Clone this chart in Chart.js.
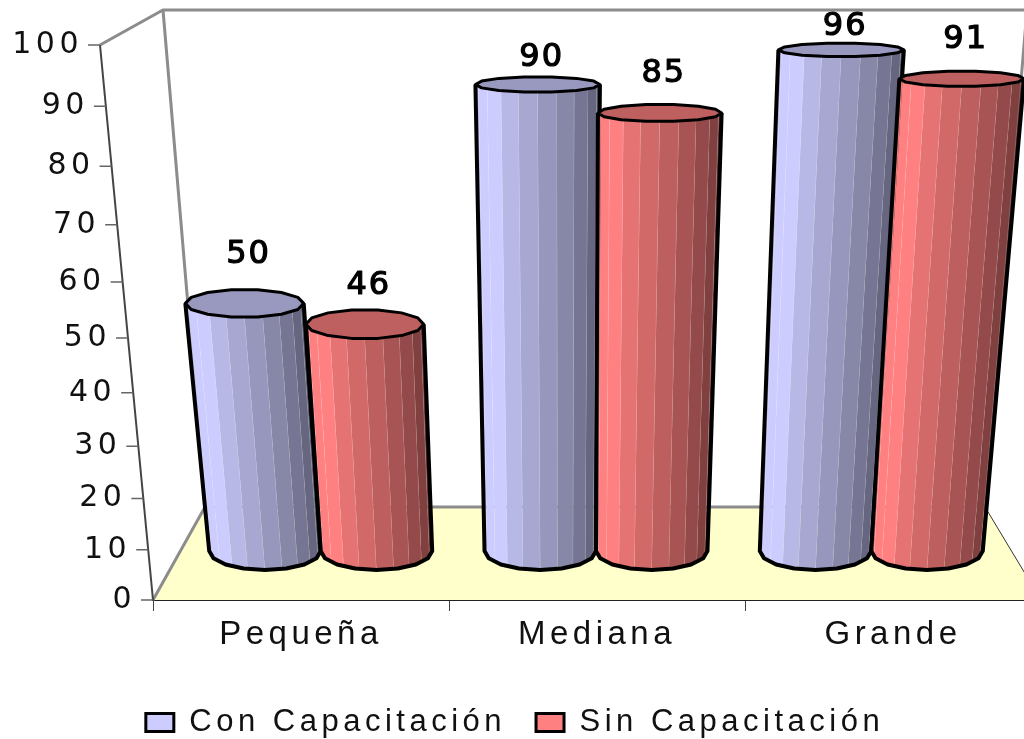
<!DOCTYPE html>
<html>
<head>
<meta charset="utf-8">
<title>Capacitación por tamaño de empresa</title>
<script src="https://cdn.jsdelivr.net/npm/chart.js@4"></script>
<style>
    html, body { margin: 0; padding: 0; background: #fff; overflow: hidden; }
    #wrap { width: 1044px; height: 739px; }
</style>
</head>
<body>
<div id="wrap"><canvas id="myChart" width="1044" height="739"></canvas></div>
<script>
const categories = ["Pequeña", "Mediana", "Grande"];
const conCapacitacion = [50, 90, 96];
const sinCapacitacion = [46, 85, 91];
const seriesNames = ["Con Capacitación", "Sin Capacitación"];
const seriesColors = ["#CCCCFF", "#FF8080"];
const yTicks = [0, 10, 20, 30, 40, 50, 60, 70, 80, 90, 100];

// shade of each visible facet, left to right
const FACET_SHADES = [0.9, 1, 1, 0.9, 0.82, 0.74, 0.66, 0.58, 0.5, 0.44];
const TOP_SHADE = 0.75;
const CAP_SIDES = 14;
const OUTLINE_SIDES = 8;
const LABEL_SPACING = "4.5px";
const FORESHORTEN = 0.1058;

// the value axis is foreshortened, 0 at the bottom of the plot and 100 at the top
class PerspectiveScale extends Chart.LinearScale {
    static id = "perspective";
    static defaults = Chart.LinearScale.defaults;

    getPixelForValue(value) {
        const t = value / 100;
        return this.bottom - (this.bottom - this.top) * (t * (1 - FORESHORTEN)) / (1 - FORESHORTEN * t);
    }

    _computeLabelItems(chartArea) {
        const items = super._computeLabelItems(chartArea);
        items.forEach((item) => {
            const y = item.options.translation[1];
            item.options.translation[0] = axisX(this, y) - 17;
        });
        return items;
    }
}
Chart.register(PerspectiveScale);

// left edge of the plot, leaning outwards as it goes up
function axisX(yScale, y) {
    return yScale.left + yScale.width - (yScale.bottom - y) * 53 / 555;
}

function shade(hex, k) {
    const n = parseInt(hex.slice(1), 16);
    const r = Math.round(((n >> 16) & 255) * k);
    const g = Math.round(((n >> 8) & 255) * k);
    const b = Math.round((n & 255) * k);
    return `rgb(${r}, ${g}, ${b})`;
}

// where a bar of the flat chart lands on the floor and at its top
function cylinderFrom(bar, area) {
    const VANISH_X = 560;
    const baseY = area.bottom - 49;
    const depth = 0.93;
    const baseX = VANISH_X + 36 + (bar.x - VANISH_X - 37) * depth;
    const topY = baseY - 0.945 * (area.bottom - bar.y);
    const rise = baseY - topY;
    const lean = baseX < VANISH_X ? 0.00028 : 0.0002;
    const topX = baseX + (baseX - VANISH_X) * lean * rise;
    const baseRx = bar.width / 2 * depth;
    return {
        baseX, baseY, topX, topY, baseRx,
        topRx: baseRx * (1 + rise * 0.00025),
        baseRy: 19,
        topRy: 6 + (topY - 20) * 0.028,
    };
}

function drawCylinder(ctx, c, color) {
    const n = FACET_SHADES.length;
    const pt = (cx, cy, rx, ry, a) => [cx + rx * Math.cos(a), cy + ry * Math.sin(a)];
    const bottomPt = (a) => pt(c.baseX, c.baseY, c.baseRx, c.baseRy, a);
    const topPt = (a) => pt(c.topX, c.topY, c.topRx, c.topRy, a);

    for (let i = 0; i < n; i++) {
        const a0 = Math.PI - (i * Math.PI) / n;
        const a1 = Math.PI - ((i + 1) * Math.PI) / n;
        const pts = [topPt(a0), topPt(a1), bottomPt(a1), bottomPt(a0)];
        ctx.beginPath();
        pts.forEach((p, j) => (j ? ctx.lineTo(p[0], p[1]) : ctx.moveTo(p[0], p[1])));
        ctx.closePath();
        ctx.fillStyle = shade(color, FACET_SHADES[i]);
        ctx.fill();
        ctx.strokeStyle = "rgba(255, 255, 255, 0.2)";
        ctx.lineWidth = 1;
        ctx.beginPath();
        ctx.moveTo(pts[1][0], pts[1][1]);
        ctx.lineTo(pts[2][0], pts[2][1]);
        ctx.stroke();
    }

    // cap
    ctx.beginPath();
    for (let i = 0; i < CAP_SIDES; i++) {
        const p = topPt((i * 2 * Math.PI) / CAP_SIDES);
        i ? ctx.lineTo(p[0], p[1]) : ctx.moveTo(p[0], p[1]);
    }
    ctx.closePath();
    ctx.fillStyle = shade(color, TOP_SHADE);
    ctx.fill();
    ctx.strokeStyle = "#000";
    ctx.lineWidth = 3;
    ctx.lineJoin = "round";
    ctx.stroke();

    // outline of the body
    ctx.lineWidth = 4;
    ctx.beginPath();
    let p = topPt(Math.PI);
    ctx.moveTo(p[0], p[1]);
    for (let i = 0; i <= OUTLINE_SIDES; i++) {
        p = bottomPt(Math.PI - (i * Math.PI) / OUTLINE_SIDES);
        ctx.lineTo(p[0], p[1]);
    }
    p = topPt(0);
    ctx.lineTo(p[0], p[1]);
    ctx.stroke();
}

const cylinderPlugin = {
    id: "cylinders",
    beforeLayout(chart) {
        chart.ctx.letterSpacing = LABEL_SPACING;
    },
    afterLayout(chart) {
        // legend sits centred in the visible window, close to the bottom
        chart.legend.left = 4;
        chart.legend.right = 1026;
        chart.legend.top = 739 - chart.legend.height + 9;
        chart.legend.bottom = chart.legend.top + chart.legend.height;
    },
    beforeDraw(chart) {
        chart.ctx.letterSpacing = LABEL_SPACING;
    },
    beforeDatasetsDraw(chart) {
        const { ctx, chartArea: area, scales } = chart;
        const y = scales.y;
        const topFront = y.getPixelForValue(100);
        const xTopFront = axisX(y, topFront);
        const backLeft = [area.left + 52, area.bottom - 93];
        const backRight = [area.right - 56, area.bottom - 93];
        const backTop = topFront - 35;

        ctx.save();
        // floor
        ctx.beginPath();
        ctx.moveTo(area.left, area.bottom);
        ctx.lineTo(backLeft[0], backLeft[1]);
        ctx.lineTo(backRight[0], backRight[1]);
        ctx.lineTo(area.right, area.bottom);
        ctx.closePath();
        ctx.fillStyle = "#FFFFCC";
        ctx.fill();

        // walls
        ctx.strokeStyle = "#8C8C8C";
        ctx.lineWidth = 3;
        ctx.beginPath();
        ctx.moveTo(xTopFront, topFront);
        ctx.lineTo(xTopFront + 63, backTop);
        ctx.lineTo(area.right + 10, backTop);
        ctx.moveTo(xTopFront + 63, backTop);
        ctx.lineTo(backLeft[0], backLeft[1]);
        ctx.lineTo(area.left, area.bottom);
        ctx.moveTo(backLeft[0], backLeft[1]);
        ctx.lineTo(backRight[0], backRight[1]);
        ctx.lineTo(area.right - 14, backTop);
        ctx.stroke();

        ctx.strokeStyle = "#333";
        ctx.lineWidth = 1;
        ctx.beginPath();
        ctx.moveTo(backRight[0], backRight[1]);
        ctx.lineTo(area.right, area.bottom);
        ctx.stroke();

        // value axis line and ticks
        ctx.strokeStyle = "#444";
        ctx.lineWidth = 2;
        ctx.beginPath();
        ctx.moveTo(area.left, area.bottom);
        ctx.lineTo(xTopFront, topFront);
        ctx.stroke();
        ctx.strokeStyle = "#666";
        ctx.lineWidth = 1.5;
        ctx.beginPath();
        y.ticks.forEach((t) => {
            const py = y.getPixelForValue(t.value);
            ctx.moveTo(axisX(y, py), py);
            ctx.lineTo(axisX(y, py) - 12, py);
        });
        ctx.stroke();
        ctx.restore();
    },
    beforeDatasetDraw() {
        return false; // the flat rectangles are replaced below
    },
    afterDatasetsDraw(chart) {
        const { ctx, chartArea: area } = chart;
        const marks = [];
        chart.data.datasets.forEach((ds, i) => {
            chart.getDatasetMeta(i).data.forEach((bar, j) => {
                marks.push({ c: cylinderFrom(bar, area), color: ds.backgroundColor, series: i, text: ds.data[j] });
            });
        });
        marks.sort((a, b) => a.c.baseX - b.c.baseX);

        ctx.save();
        marks.forEach((m) => drawCylinder(ctx, m.c, m.color));

        ctx.fillStyle = "#000";
        ctx.strokeStyle = "#000";
        ctx.lineWidth = 1.2;
        ctx.font = "32px 'DejaVu Sans'";
        ctx.letterSpacing = "2px";
        ctx.textAlign = "center";
        ctx.textBaseline = "middle";
        marks.forEach((m) => {
            const gap = m.series === 0 ? 20 + (m.c.topY - 20) * 0.1 : 39;
            ctx.fillText(String(m.text), m.c.topX + 4, m.c.topY - gap);
            ctx.strokeText(String(m.text), m.c.topX + 4, m.c.topY - gap);
        });
        ctx.restore();
    },
};

function createChart() {
    const ctx = document.getElementById("myChart");
    return new Chart(ctx, {
        type: "bar",
        data: {
            labels: categories,
            datasets: [
                { label: seriesNames[0], data: conCapacitacion, backgroundColor: seriesColors[0], borderColor: "#000", borderWidth: 3 },
                { label: seriesNames[1], data: sinCapacitacion, backgroundColor: seriesColors[1], borderColor: "#000", borderWidth: 3 },
            ],
        },
        options: {
            responsive: false,
            animation: false,
            layout: { padding: { top: 45, right: 3, left: 0, bottom: 0 } },
            datasets: { bar: { categoryPercentage: 0.81, barPercentage: 1 } },
            scales: {
                x: {
                    offset: true,
                    grid: { drawOnChartArea: false, drawTicks: true, tickLength: 11, offset: true, color: "#444" },
                    border: { color: "#222", width: 2 },
                    ticks: { color: "#111", font: { family: "'Liberation Sans'", size: 33 }, padding: 4, maxRotation: 0 },
                    afterFit(scale) { scale.height = 139 - scale.chart.legend.height; },
                },
                y: {
                    type: "perspective",
                    min: 0,
                    max: 100,
                    grid: { display: false },
                    border: { display: false },
                    afterBuildTicks(scale) { scale.ticks = yTicks.map((value) => ({ value })); },
                    ticks: { color: "#111", font: { family: "'DejaVu Sans'", size: 30 } },
                    afterFit(scale) { scale.width = 153; },
                },
            },
            plugins: {
                tooltip: { enabled: false },
                legend: {
                    position: "bottom",
                    labels: {
                        color: "#111",
                        font: { family: "'Liberation Sans'", size: 31 },
                        boxWidth: 28,
                        boxHeight: 18,
                        padding: 30,
                    },
                },
            },
        },
        plugins: [cylinderPlugin],
    });
}

document.addEventListener("DOMContentLoaded", () => {
    createChart();
});
</script>
</body>
</html>
